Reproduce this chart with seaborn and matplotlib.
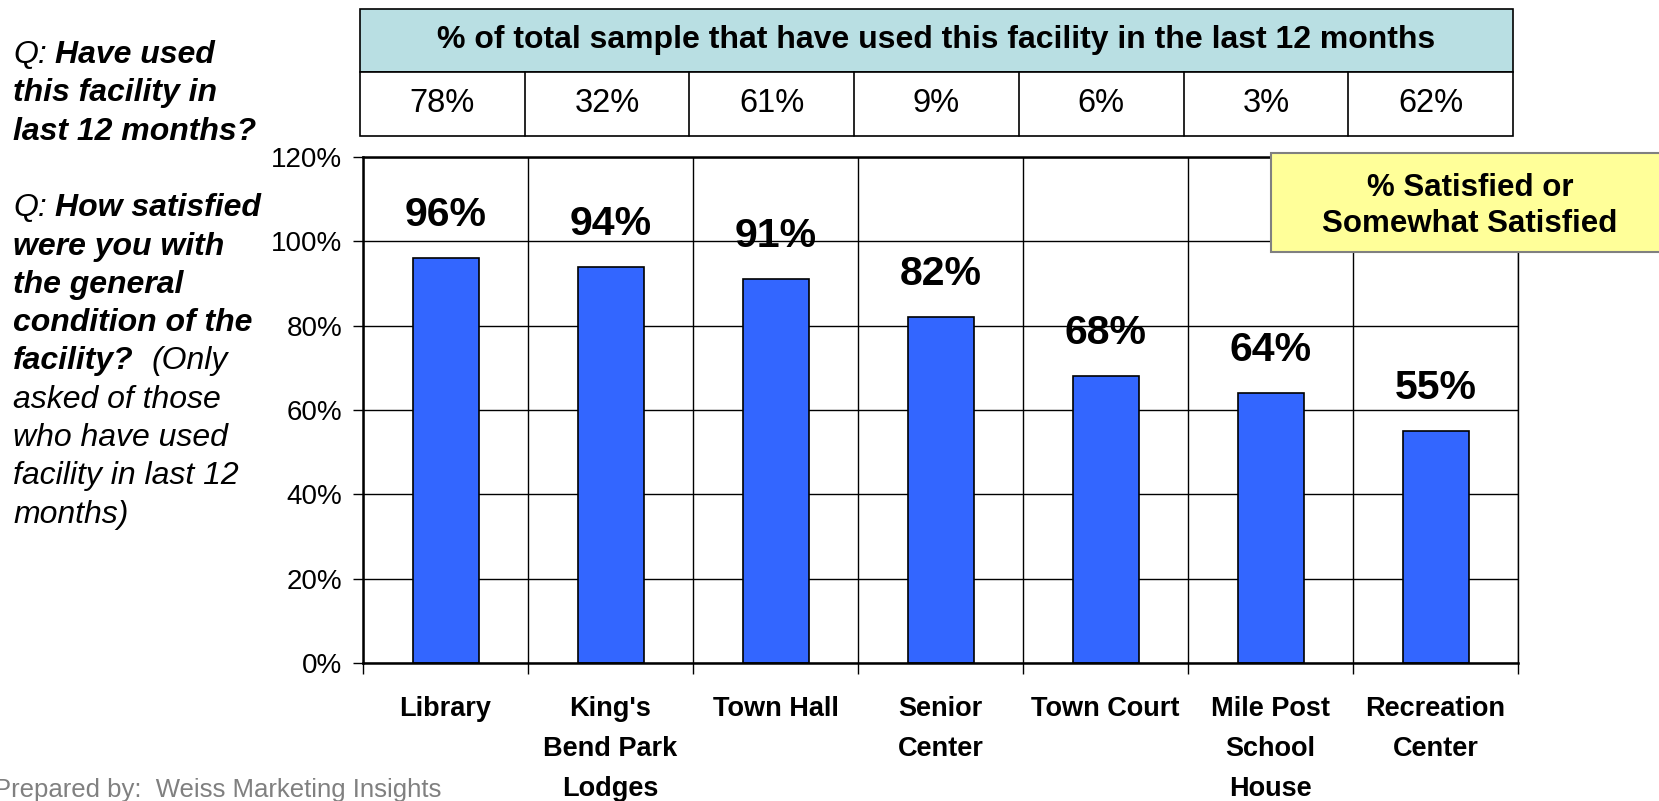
import matplotlib.pyplot as plt
from matplotlib.patches import Rectangle
import seaborn as sns
import pandas as pd

facilities = ['Library', "King's\nBend Park\nLodges", 'Town Hall', 'Senior\nCenter',
              'Town Court', 'Mile Post\nSchool\nHouse', 'Recreation\nCenter']
satisfied = [96, 94, 91, 82, 68, 64, 55]
used_last_12 = [78, 32, 61, 9, 6, 3, 62]
y_ticks = [0, 20, 40, 60, 80, 100, 120]

header_text = '% of total sample that have used this facility in the last 12 months'
box_text = '% Satisfied or\nSomewhat Satisfied'
footer_text = 'Prepared by:  Weiss Marketing Insights'

# question text on the left, each line is a list of (text, bold) pieces
question_lines = [
    [('Q:', False), ('Have used', True)],
    [('this facility in', True)],
    [('last 12 months?', True)],
    [],
    [('Q:', False), ('How satisfied', True)],
    [('were you with', True)],
    [('the general', True)],
    [('condition of the', True)],
    [('facility?', True), ('(Only', False)],
    [('asked of those', False)],
    [('who have used', False)],
    [('facility in last 12', False)],
    [('months)', False)],
]

W, H = 1659, 801

sns.set_theme(style='white', rc={'text.color': 'black', 'xtick.color': 'black',
                                 'ytick.color': 'black', 'axes.edgecolor': 'black'})
plt.rcParams['font.family'] = ['Liberation Sans', 'DejaVu Sans']


def fx(px):
    return px / W


def fy(py):
    return 1 - py / H


fig = plt.figure(figsize=(W / 100, H / 100), dpi=100)

# main bar chart
ax = fig.add_axes([fx(363), fy(663), fx(1518) - fx(363), fy(157) - fy(663)])
df = pd.DataFrame({'facility': facilities, 'satisfied': satisfied})
sns.barplot(data=df, x='facility', y='satisfied', color='#3366FF', saturation=1,
            width=0.4, edgecolor='black', linewidth=1.2, ax=ax)

ax.set_ylim(0, 120)
ax.set_xlim(-0.5, len(facilities) - 0.5)
ax.set_yticks(y_ticks)
ax.set_yticklabels([f'{t}%' for t in y_ticks], fontsize=20)
ax.set_xticks(range(len(facilities)))
ax.set_xticklabels(facilities, fontsize=19.5, fontweight='bold', linespacing=1.68)
ax.set_xticks([i - 0.5 for i in range(len(facilities) + 1)], minor=True)
ax.set_xlabel('')
ax.set_ylabel('')

ax.tick_params(axis='x', which='major', length=0, pad=24)
ax.tick_params(axis='x', which='minor', length=8, width=1, direction='out', bottom=True)
ax.tick_params(axis='y', length=7, width=1, direction='out', left=True, pad=8)

ax.grid(True, axis='y', color='black', linewidth=1)
ax.grid(True, axis='x', which='minor', color='black', linewidth=1)
ax.grid(False, axis='x', which='major')
ax.set_axisbelow(True)

for side in ['left', 'bottom', 'top']:
    ax.spines[side].set_linewidth(1.8)
ax.spines['right'].set_linewidth(1.0)

for i, v in enumerate(satisfied):
    ax.annotate(f'{v}%', xy=(i, v), xytext=(0, 31), textcoords='offset points',
                ha='center', va='center', fontsize=29.5, fontweight='bold')

# table with usage numbers above the chart
tab = fig.add_axes([fx(360), fy(135.5), fx(1513) - fx(360), fy(8.5) - fy(135.5)])
tab.set_xlim(0, len(used_last_12))
tab.set_ylim(0, 2)
tab.axis('off')
tab.add_patch(Rectangle((0, 1), len(used_last_12), 1, facecolor='#B9DFE3',
                        edgecolor='black', linewidth=1.2, clip_on=False))
tab.add_patch(Rectangle((0, 0), len(used_last_12), 1, facecolor='white',
                        edgecolor='black', linewidth=1.2, clip_on=False))
tab.text(len(used_last_12) / 2, 1.5, header_text, ha='center', va='center',
         fontsize=23, fontweight='bold')
for i, v in enumerate(used_last_12):
    tab.text(i + 0.5, 0.5, f'{v}%', ha='center', va='center', fontsize=23.5)
    if i > 0:
        tab.plot([i, i], [0, 1], color='black', linewidth=1.2, clip_on=False)

# yellow legend-like box
fig.add_artist(Rectangle((fx(1271), fy(252)), fx(1680) - fx(1271), fy(153) - fy(252),
                         transform=fig.transFigure, facecolor='#FFFF99',
                         edgecolor='#808080', linewidth=1.5))
fig.text(fx(1470), fy(206), box_text, ha='center', va='center', fontsize=22.5,
         fontweight='bold', linespacing=1.25)

# question text, pieces of one line chained one after another
y0, dy = 55, 38.3
for n, pieces in enumerate(question_lines):
    prev = None
    for text, bold in pieces:
        weight = 'bold' if bold else 'normal'
        if prev is None:
            prev = fig.text(fx(13), fy(y0 + n * dy), text, ha='left', va='center',
                            fontsize=23, style='italic', fontweight=weight)
        else:
            gap = 6 if text[0] != '(' else 13
            prev = ax.annotate(text, xy=(1, 0.5), xycoords=prev, xytext=(gap, 0),
                               textcoords='offset points', ha='left', va='center',
                               fontsize=23, style='italic', fontweight=weight,
                               annotation_clip=False)

fig.text(fx(-6), fy(790), footer_text, ha='left', va='center', fontsize=18.5,
         color='#808080')

fig.savefig('out.png', dpi=100)
